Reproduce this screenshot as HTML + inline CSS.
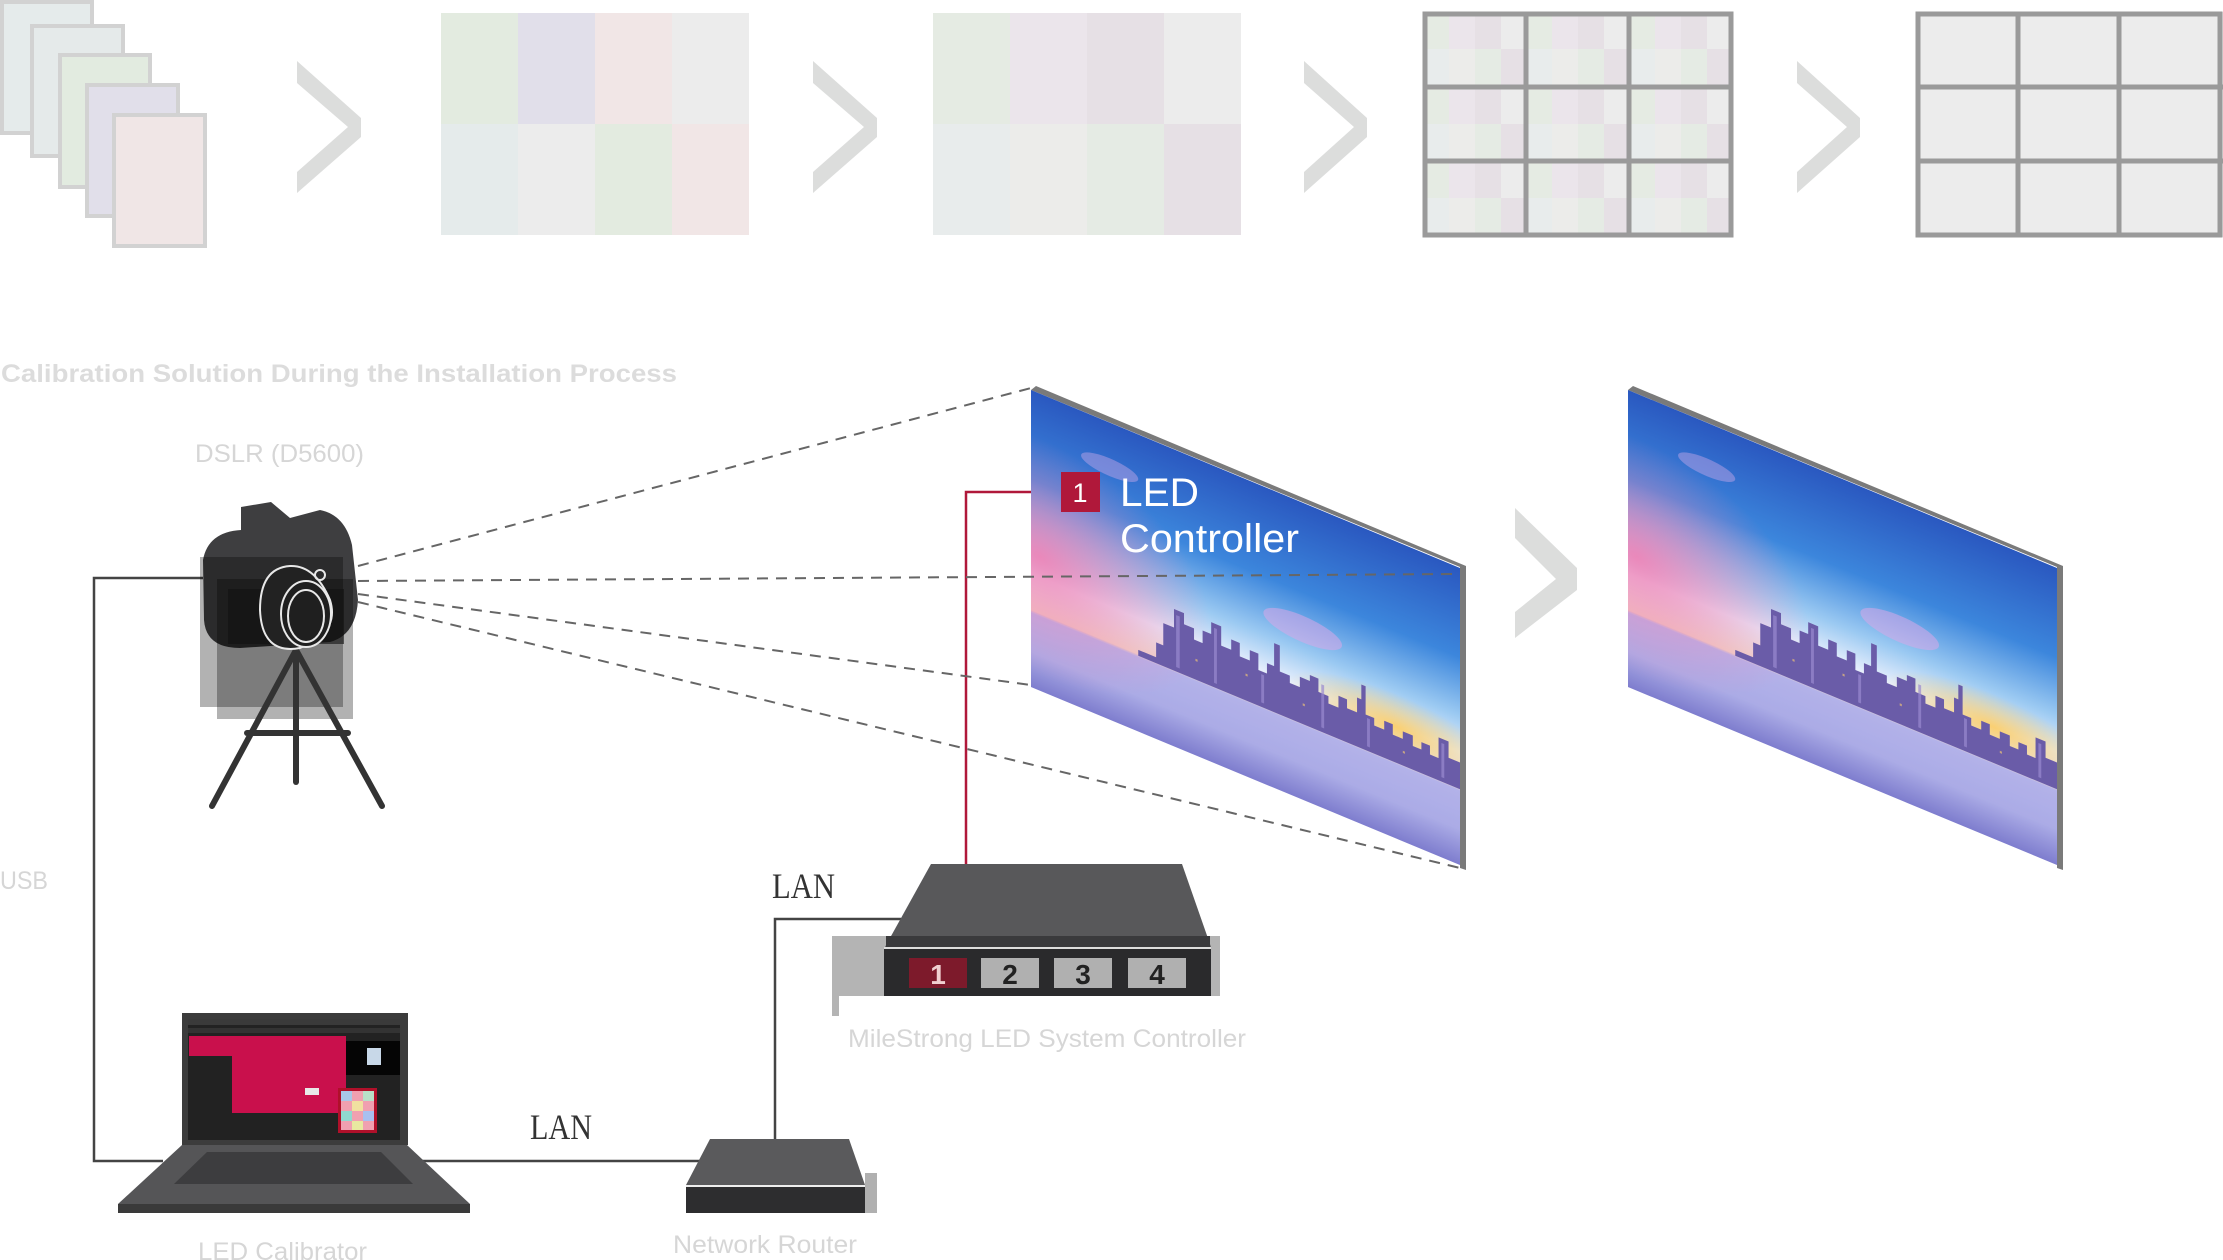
<!DOCTYPE html>
<html><head><meta charset="utf-8"><style>
html,body{margin:0;padding:0;background:#fff;}
svg{display:block;}
</style></head><body>
<svg width="2223" height="1260" viewBox="0 0 2223 1260" xmlns="http://www.w3.org/2000/svg" font-family="Liberation Sans, sans-serif">
<defs>
  <linearGradient id="sky" x1="0" y1="0" x2="0" y2="1">
    <stop offset="0" stop-color="#2a58c0"/>
    <stop offset="0.3" stop-color="#3c86dc"/>
    <stop offset="0.5" stop-color="#9ccaf2"/>
    <stop offset="0.62" stop-color="#e6eefc"/>
    <stop offset="0.74" stop-color="#efd8c8"/>
    <stop offset="0.75" stop-color="#aeaee8"/>
    <stop offset="0.88" stop-color="#a4a6e4"/>
    <stop offset="1" stop-color="#6c6cc6"/>
  </linearGradient>
  <radialGradient id="pink" cx="0.02" cy="0.55" r="0.4">
    <stop offset="0" stop-color="#f27ab0" stop-opacity="0.85"/>
    <stop offset="1" stop-color="#f27ab0" stop-opacity="0"/>
  </radialGradient>
  <radialGradient id="sun" cx="0.85" cy="0.72" r="0.25">
    <stop offset="0" stop-color="#ffc850" stop-opacity="0.8"/>
    <stop offset="1" stop-color="#ffc850" stop-opacity="0"/>
  </radialGradient>
  <g id="scene">
    <rect x="0" y="0" width="600" height="400" fill="url(#sky)"/>
    <rect x="0" y="0" width="600" height="400" fill="url(#pink)"/>
    <rect x="0" y="120" width="600" height="180" fill="url(#sun)"/>
    <ellipse cx="380" cy="170" rx="55" ry="18" fill="#d9a8e8" opacity="0.55"/>
    <ellipse cx="110" cy="60" rx="40" ry="12" fill="#c9a8e8" opacity="0.45"/>
    <path fill="#6a5ca8" d="M150,298 L150,290 L175,290 L175,270 L185,270 L185,240 L200,240 L200,215 L214,215 L214,230 L228,230 L228,245 L240,245 L240,228 L252,228 L252,212 L266,212 L266,238 L280,238 L280,224 L292,224 L292,242 L306,242 L306,228 L318,228 L318,250 L330,250 L330,236 L340,236 L340,205 L348,205 L348,240 L362,240 L362,250 L376,250 L376,236 L390,236 L390,228 L402,228 L402,246 L416,246 L416,256 L430,256 L430,240 L442,240 L442,252 L456,252 L456,232 L462,232 L462,212 L468,212 L468,250 L480,250 L480,260 L494,260 L494,248 L506,248 L506,262 L520,262 L520,252 L534,252 L534,266 L546,266 L546,256 L558,256 L558,268 L570,268 L570,240 L584,240 L584,262 L600,262 L600,298 Z"/>
    <g fill="#9a8ad0" opacity="0.7">
      <rect x="203" y="222" width="5" height="70"/>
      <rect x="256" y="218" width="4" height="74"/>
      <rect x="322" y="254" width="4" height="38"/>
      <rect x="406" y="234" width="4" height="58"/>
      <rect x="574" y="246" width="4" height="46"/>
      <rect x="470" y="254" width="4" height="38"/>
    </g>
    <g fill="#ffd070" opacity="0.6">
      <rect x="230" y="270" width="3" height="3"/><rect x="300" y="262" width="3" height="3"/>
      <rect x="380" y="270" width="3" height="3"/><rect x="520" y="278" width="3" height="3"/>
    </g>
    <rect x="0" y="298" width="600" height="102" fill="#c8c4f0" opacity="0.2"/>
  </g>
  <g id="cellC">
    <rect x="0" y="0" width="26" height="37" fill="#e5ebe3"/>
    <rect x="26" y="0" width="26" height="37" fill="#ebe5eb"/>
    <rect x="52" y="0" width="26" height="37" fill="#e6e0e5"/>
    <rect x="78" y="0" width="26" height="37" fill="#ececec"/>
    <rect x="0" y="37" width="26" height="38" fill="#e8ecec"/>
    <rect x="26" y="37" width="26" height="38" fill="#ececea"/>
    <rect x="52" y="37" width="26" height="38" fill="#e5ebe4"/>
    <rect x="78" y="37" width="26" height="38" fill="#e6e0e5"/>
  </g>
</defs>

<!-- TOP ROW -->
<g stroke="#d2d2d2" stroke-width="4">
  <rect x="2" y="2" width="90" height="131" fill="#e5ebeb"/>
  <rect x="32" y="26" width="91" height="130" fill="#e5eaea"/>
  <rect x="60" y="55" width="90" height="132" fill="#e2ebe0"/>
  <rect x="87" y="85" width="91" height="131" fill="#e1dfea"/>
  <rect x="114" y="115" width="91" height="131" fill="#f0e6e6"/>
</g>
<g fill="#dcdddc">
  <polygon points="297,61 361,118 361,137 297,193 297,172 348,127 297,83"/>
  <polygon points="813,61 877,118 877,137 813,193 813,172 864,127 813,83"/>
  <polygon points="1304,61 1367,118 1367,137 1304,193 1304,172 1354,127 1304,83"/>
  <polygon points="1797,61 1860,118 1860,137 1797,193 1797,172 1847,127 1797,83"/>
  <polygon points="1515,508 1577,568 1577,590 1515,638 1515,612 1556,579 1515,538"/>
</g>
<g>
  <rect x="441" y="13" width="77" height="111" fill="#e3ebe0"/>
  <rect x="518" y="13" width="77" height="111" fill="#e1dfea"/>
  <rect x="595" y="13" width="77" height="111" fill="#f1e6e6"/>
  <rect x="672" y="13" width="77" height="111" fill="#ececec"/>
  <rect x="441" y="124" width="77" height="111" fill="#e5ebeb"/>
  <rect x="518" y="124" width="77" height="111" fill="#ececec"/>
  <rect x="595" y="124" width="77" height="111" fill="#e3ebe0"/>
  <rect x="672" y="124" width="77" height="111" fill="#f1e6e6"/>
</g>
<g>
  <rect x="933" y="13" width="77" height="111" fill="#e5ebe3"/>
  <rect x="1010" y="13" width="77" height="111" fill="#ebe5eb"/>
  <rect x="1087" y="13" width="77" height="111" fill="#e6e0e5"/>
  <rect x="1164" y="13" width="77" height="111" fill="#ececec"/>
  <rect x="933" y="124" width="77" height="111" fill="#e8ecec"/>
  <rect x="1010" y="124" width="77" height="111" fill="#ececea"/>
  <rect x="1087" y="124" width="77" height="111" fill="#e5ebe4"/>
  <rect x="1164" y="124" width="77" height="111" fill="#e6e0e5"/>
</g>
<g>
  <use href="#cellC" x="1423" y="12"/><use href="#cellC" x="1526" y="12"/><use href="#cellC" x="1629" y="12"/>
  <use href="#cellC" x="1423" y="87"/><use href="#cellC" x="1526" y="87"/><use href="#cellC" x="1629" y="87"/>
  <use href="#cellC" x="1423" y="161"/><use href="#cellC" x="1526" y="161"/><use href="#cellC" x="1629" y="161"/>
</g>
<g stroke="#9a9a9a" stroke-width="5" fill="none">
  <rect x="1425" y="14" width="306" height="221"/>
  <line x1="1526" y1="12" x2="1526" y2="237"/><line x1="1629" y1="12" x2="1629" y2="237"/>
  <line x1="1423" y1="87" x2="1733" y2="87"/><line x1="1423" y1="161" x2="1733" y2="161"/>
</g>
<rect x="1916" y="12" width="307" height="225" fill="#ececec"/>
<g stroke="#9a9a9a" stroke-width="5" fill="none">
  <rect x="1918" y="14" width="302" height="221"/>
  <line x1="2018" y1="12" x2="2018" y2="237"/><line x1="2119" y1="12" x2="2119" y2="237"/>
  <line x1="1916" y1="87" x2="2223" y2="87"/><line x1="1916" y1="161" x2="2223" y2="161"/>
</g>

<!-- Labels -->
<text x="1" y="382" font-size="25" font-weight="bold" fill="#dcdcdc" textLength="676" lengthAdjust="spacingAndGlyphs">Calibration Solution During the Installation Process</text>
<text x="195" y="462" font-size="25" fill="#d6d6d6" textLength="169" lengthAdjust="spacingAndGlyphs">DSLR (D5600)</text>
<text x="0" y="889" font-size="25" fill="#d6d6d6" textLength="48" lengthAdjust="spacingAndGlyphs">USB</text>
<text x="198" y="1260" font-size="25" fill="#d6d6d6" textLength="169" lengthAdjust="spacingAndGlyphs">LED Calibrator</text>
<text x="673" y="1253" font-size="25" fill="#d6d6d6" textLength="184" lengthAdjust="spacingAndGlyphs">Network Router</text>
<text x="848" y="1047" font-size="25" fill="#d6d6d6" textLength="398" lengthAdjust="spacingAndGlyphs">MileStrong LED System Controller</text>
<text x="530" y="1139" font-size="36" font-family="Liberation Serif, serif" fill="#333" textLength="62" lengthAdjust="spacingAndGlyphs">LAN</text>
<text x="772" y="898" font-size="36" font-family="Liberation Serif, serif" fill="#333" textLength="63" lengthAdjust="spacingAndGlyphs">LAN</text>

<!-- Connectors -->
<polyline points="203,578 94,578 94,1161 163,1161" fill="none" stroke="#444" stroke-width="2.5"/>
<line x1="420" y1="1161" x2="702" y2="1161" stroke="#444" stroke-width="2.5"/>
<polyline points="775,1140 775,919 901,919" fill="none" stroke="#444" stroke-width="2.5"/>
<polyline points="966,866 966,492 1062,492" fill="none" stroke="#b0183a" stroke-width="2.5"/>

<!-- Screens -->
<g>
  <polygon points="1036,386 1466,566 1466,870 1460,868 1460,567 1031,390" fill="#7a7a7a"/>
  <g transform="matrix(0.715,0.2967,0,0.7425,1031,390)"><use href="#scene"/></g>
  <polygon points="1633,386 2063,566 2063,870 2057,868 2057,567 1628,390" fill="#7a7a7a"/>
  <g transform="matrix(0.715,0.2967,0,0.7425,1628,390)"><use href="#scene"/></g>
</g>

<g stroke="#666" stroke-width="2" stroke-dasharray="11,8" fill="none">
  <line x1="358" y1="566" x2="1031" y2="388"/>
  <line x1="358" y1="581" x2="1460" y2="574"/>
  <line x1="358" y1="594" x2="1031" y2="685"/>
  <line x1="358" y1="602" x2="1460" y2="868"/>
</g>

<rect x="1061" y="472" width="39" height="40" fill="#b0183a"/>
<text x="1080" y="502" font-size="27" fill="#fff" text-anchor="middle">1</text>
<text x="1120" y="506" font-size="40" fill="#fff" textLength="79" lengthAdjust="spacingAndGlyphs">LED</text>
<text x="1120" y="552" font-size="40" fill="#fff" textLength="179" lengthAdjust="spacingAndGlyphs">Controller</text>

<!-- Camera -->
<g>
  <path d="M241,530 L241,507 L271,502 L290,518 L320,510 Q345,515 352,545 L358,600 Q356,635 330,642 L240,648 Q206,648 204,620 L203,560 Q208,532 241,530 Z" fill="#3e3e40"/>
  <rect x="200" y="557" width="143" height="150" fill="#000" opacity="0.3"/>
  <rect x="217" y="579" width="136" height="140" fill="#000" opacity="0.3"/>
  <rect x="228" y="589" width="116" height="55" fill="#111" opacity="0.6"/>
  <g stroke="#333" stroke-width="6" stroke-linecap="round" fill="none">
    <line x1="296" y1="650" x2="212" y2="806"/>
    <line x1="296" y1="650" x2="382" y2="806"/>
    <line x1="296" y1="650" x2="296" y2="782"/>
    <line x1="247" y1="733" x2="348" y2="733"/>
  </g>
  <g fill="none" stroke="#e8e8e8" stroke-width="2">
    <path d="M290,566 Q315,565 330,600 Q340,632 300,648 Q262,655 260,610 Q260,568 290,566 Z" fill="#222"/>
    <ellipse cx="306" cy="614" rx="25" ry="33" fill="#1f1f1f"/>
    <ellipse cx="306" cy="616" rx="18" ry="26"/>
    <circle cx="320" cy="575" r="5"/>
  </g>
</g>

<!-- Laptop -->
<g>
  <rect x="182" y="1013" width="226" height="132" fill="#3c3c3c"/>
  <rect x="188" y="1019" width="212" height="121" fill="#222"/>
  <rect x="188" y="1019" width="212" height="6" fill="#3a3a3a"/>
  <rect x="188" y="1028" width="212" height="5" fill="#333"/>
  <rect x="232" y="1036" width="114" height="77" fill="#c9104c"/>
  <rect x="189" y="1036" width="43" height="20" fill="#c9104c"/>
  <rect x="346" y="1041" width="54" height="34" fill="#050505"/>
  <rect x="367" y="1048" width="14" height="17" fill="#c8d8e8"/>
  <rect x="305" y="1088" width="14" height="7" fill="#e8e8e8"/>
  <rect x="338" y="1088" width="39" height="45" fill="#b0102a"/>
  <rect x="341" y="1091" width="33" height="39" fill="#f0a0b0"/>
  <rect x="341" y="1091" width="11" height="10" fill="#a8c8e8"/>
  <rect x="352" y="1101" width="11" height="10" fill="#f0e0a0"/>
  <rect x="363" y="1091" width="11" height="10" fill="#b8e0c8"/>
  <rect x="341" y="1111" width="11" height="10" fill="#90d8d0"/>
  <rect x="363" y="1111" width="11" height="10" fill="#a8c0f0"/>
  <rect x="352" y="1121" width="11" height="9" fill="#e8e8a0"/>
  <polygon points="182,1145 407,1145 470,1204 118,1204" fill="#555557"/>
  <polygon points="207,1152 381,1152 413,1184 174,1184" fill="#3d3d3f"/>
  <rect x="118" y="1204" width="352" height="9" fill="#3a3a3a"/>
</g>

<!-- Router -->
<g>
  <rect x="865" y="1173" width="12" height="40" fill="#b0b0b0"/>
  <polygon points="710,1139 849,1139 865,1185 686,1185" fill="#5a5a5c"/>
  <rect x="686" y="1185" width="179" height="2" fill="#eee"/>
  <rect x="686" y="1187" width="179" height="26" fill="#2d2d2f"/>
</g>

<!-- Controller -->
<g>
  <rect x="832" y="936" width="388" height="60" fill="#b4b4b4"/>
  <rect x="832" y="936" width="7" height="80" fill="#b4b4b4"/>
  <polygon points="931,864 1182,864 1211,947 885,947" fill="#58585a"/>
  <rect x="886" y="936" width="324" height="11" fill="#3a3a3c"/>
  <rect x="884" y="947" width="327" height="2" fill="#ddd"/>
  <rect x="884" y="949" width="327" height="47" fill="#2a2a2c"/>
  <rect x="909" y="958" width="58" height="30" fill="#7d1a2b"/>
  <rect x="981" y="958" width="58" height="30" fill="#b0b0b0"/>
  <rect x="1054" y="958" width="58" height="30" fill="#b0b0b0"/>
  <rect x="1128" y="958" width="58" height="30" fill="#b0b0b0"/>
  <g font-size="28" font-weight="bold" text-anchor="middle">
    <text x="938" y="984" fill="#f0d0d0">1</text>
    <text x="1010" y="984" fill="#222">2</text>
    <text x="1083" y="984" fill="#222">3</text>
    <text x="1157" y="984" fill="#222">4</text>
  </g>
</g>
</svg>
</body></html>
